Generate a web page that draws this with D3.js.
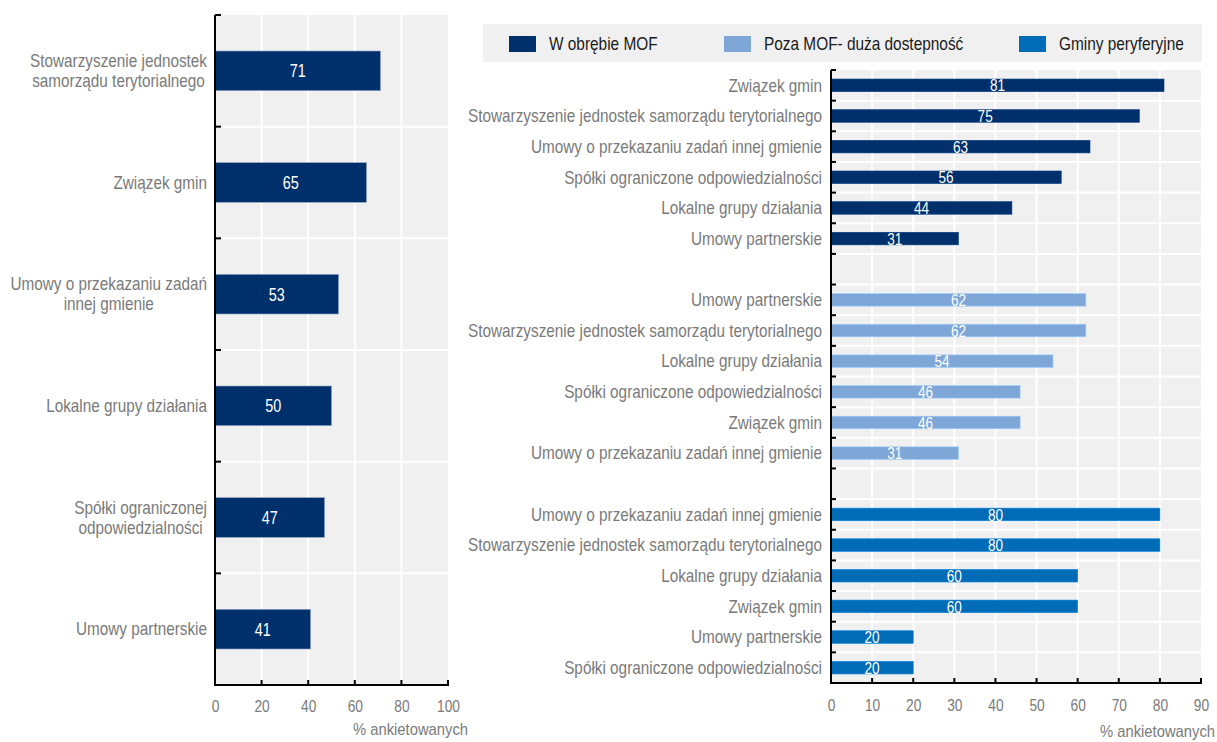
<!DOCTYPE html>
<html><head><meta charset="utf-8">
<script src="https://cdn.jsdelivr.net/npm/d3@7"></script>
<style>
html,body{margin:0;padding:0;background:#fff;}
text{font-family:"Liberation Sans Narrow","Arial Narrow","Liberation Sans",Arial,sans-serif;}
</style></head>
<body>
<svg id="chart" width="1217" height="742"></svg>
<script>
// ---- data ----
const leftCategories = ["Stowarzyszenie jednostek samorządu terytorialnego","Związek gmin","Umowy o przekazaniu zadań innej gmienie","Lokalne grupy działania","Spółki ograniczonej odpowiedzialności","Umowy partnerskie"];
const leftLabelLines = [["Stowarzyszenie jednostek","samorządu terytorialnego"],["Związek gmin"],["Umowy o przekazaniu zadań","innej gmienie"],["Lokalne grupy działania"],["Spółki ograniczonej","odpowiedzialności"],["Umowy partnerskie"]];
const leftValues = [71,65,53,50,47,41];
const leftTicks = [0,20,40,60,80,100];

const seriesNames = ["W obrębie MOF","Poza MOF- duża dostepność","Gminy peryferyjne"];
const seriesColors = ["#00306b","#7ea7d8","#006bb6"];
const mofCategories = ["Związek gmin","Stowarzyszenie jednostek samorządu terytorialnego","Umowy o przekazaniu zadań innej gmienie","Spółki ograniczone odpowiedzialności","Lokalne grupy działania","Umowy partnerskie"];
const mofValues = [81,75,63,56,44,31];
const pozaCategories = ["Umowy partnerskie","Stowarzyszenie jednostek samorządu terytorialnego","Lokalne grupy działania","Spółki ograniczone odpowiedzialności","Związek gmin","Umowy o przekazaniu zadań innej gmienie"];
const pozaValues = [62,62,54,46,46,31];
const peryCategories = ["Umowy o przekazaniu zadań innej gmienie","Stowarzyszenie jednostek samorządu terytorialnego","Lokalne grupy działania","Związek gmin","Umowy partnerskie","Spółki ograniczone odpowiedzialności"];
const peryValues = [80,80,60,60,20,20];
const rightTicks = [0,10,20,30,40,50,60,70,80,90];
const axisTitle = "% ankietowanych";

const svg = d3.select("#chart");
const BG = "#f0f0f0", GRAY = "#7a7a7a";

// condensed text helper (emulates a narrow face by horizontal scaling)
function ctext(parent, x, y, size, sx){
  return parent.append("text")
    .attr("transform", `translate(${x},${y}) scale(${sx},1)`)
    .attr("font-size", size);
}

// ---------- LEFT PANEL ----------
(function(){
  const x0 = 215, x1 = 448, y0 = 15, y1 = 685;
  const x = d3.scaleLinear().domain([0,100]).range([x0,x1]);
  const y = d3.scaleBand().domain(d3.range(leftCategories.length)).range([y0,y1]).padding(0);
  const g = svg.append("g");
  g.append("rect").attr("x",x0).attr("y",y0).attr("width",x1-x0).attr("height",y1-y0).attr("fill",BG);
  g.selectAll(".vg").data(leftTicks.slice(1,-1)).enter().append("line")
    .attr("x1",d=>x(d)).attr("x2",d=>x(d)).attr("y1",y0).attr("y2",y1)
    .attr("stroke","#fff").attr("stroke-width",2);
  const bounds = d3.range(1,leftCategories.length).map(i=>y(i));
  g.selectAll(".hg").data(bounds).enter().append("line")
    .attr("x1",x0).attr("x2",x1).attr("y1",d=>d).attr("y2",d=>d)
    .attr("stroke","#fff").attr("stroke-width",2);
  const bh = y.bandwidth()*0.355;
  g.selectAll(".bar").data(leftValues).enter().append("rect")
    .attr("x",x(0)).attr("y",(d,i)=>y(i)+y.bandwidth()/2-bh/2)
    .attr("width",d=>x(d)-x(0)).attr("height",bh)
    .attr("fill",seriesColors[0]).attr("stroke","#8ea3c4").attr("stroke-width",0.6);
  leftValues.forEach((d,i)=>{
    ctext(g,(x(0)+x(d))/2, y(i)+y.bandwidth()/2, 18, 0.8)
      .attr("dy","0.36em").attr("text-anchor","middle").attr("fill","#fff").text(d);
  });
  const S = 0.875;
  leftLabelLines.forEach((lines,i)=>{
    const cy = y(i)+y.bandwidth()/2;
    const lh = 20;
    const t = ctext(g, 0, 0, 17.5, S).attr("fill",GRAY).attr("text-anchor","middle");
    const spans = lines.map((ln,k)=>t.append("tspan").attr("x",0)
      .attr("y",cy + (k-(lines.length-1)/2)*lh).attr("dy","0.36em").text(ln));
    let maxW = 0;
    spans.forEach(s=>{maxW=Math.max(maxW,s.node().getComputedTextLength());});
    const cx = 207 - maxW*S/2;
    t.attr("transform",`translate(${cx},0) scale(${S},1)`);
  });
  g.append("line").attr("x1",x0).attr("x2",x0).attr("y1",y0).attr("y2",y1).attr("stroke","#000").attr("stroke-width",2);
  g.append("line").attr("x1",x0-1).attr("x2",x1+1).attr("y1",y1).attr("y2",y1).attr("stroke","#000").attr("stroke-width",2);
  g.selectAll(".yt").data([y0].concat(bounds)).enter().append("line")
    .attr("x1",x0).attr("x2",x0+6).attr("y1",d=>d).attr("y2",d=>d).attr("stroke","#000").attr("stroke-width",2);
  const xa = d3.axisBottom(x).tickValues(leftTicks).tickSize(0).tickPadding(16);
  const ax = g.append("g").attr("transform",`translate(0,${y1})`).call(xa);
  ax.select(".domain").remove();
  ax.selectAll("text").attr("font-size",16).attr("fill",GRAY).attr("font-family",null)
    .attr("transform","scale(0.86,1)");
  g.selectAll(".xt").data(leftTicks).enter().append("line")
    .attr("x1",d=>x(d)).attr("x2",d=>x(d)).attr("y1",y1).attr("y2",y1-5).attr("stroke","#000").attr("stroke-width",2);
  ctext(g,468,735,17,0.87).attr("text-anchor","end").attr("fill",GRAY).text(axisTitle);
})();

// ---------- RIGHT PANEL ----------
(function(){
  const x0 = 831, x1 = 1201, y0 = 70, y1 = 683;
  const groups = [
    {cats:mofCategories, vals:mofValues, color:seriesColors[0]},
    {cats:pozaCategories, vals:pozaValues, color:seriesColors[1]},
    {cats:peryCategories, vals:peryValues, color:seriesColors[2]}
  ];
  const rows = [];
  groups.forEach((gr,gi)=>{
    gr.cats.forEach((c,ci)=>rows.push({key:`${gi}-${ci}`, cat:c, val:gr.vals[ci], color:gr.color}));
    if (gi<groups.length-1) rows.push({key:`gap${gi}`, gap:true});
  });
  const x = d3.scaleLinear().domain([0,90]).range([x0,x1]);
  const y = d3.scaleBand().domain(rows.map(r=>r.key)).range([y0,y1]).padding(0);
  const g = svg.append("g");
  g.append("rect").attr("x",x0).attr("y",y0).attr("width",x1-x0).attr("height",y1-y0).attr("fill",BG);
  g.selectAll(".vg").data(rightTicks.slice(1,-1)).enter().append("line")
    .attr("x1",d=>x(d)).attr("x2",d=>x(d)).attr("y1",y0).attr("y2",y1)
    .attr("stroke","#fff").attr("stroke-width",2);
  const bounds = rows.slice(1).map(r=>y(r.key));
  g.selectAll(".hg").data(bounds).enter().append("line")
    .attr("x1",x0).attr("x2",x1).attr("y1",d=>d).attr("y2",d=>d)
    .attr("stroke","#fff").attr("stroke-width",2);
  const data = rows.filter(r=>!r.gap);
  const bh = y.bandwidth()*0.41;
  g.selectAll(".bar").data(data).enter().append("rect")
    .attr("x",x(0)).attr("y",d=>y(d.key)+y.bandwidth()/2-bh/2)
    .attr("width",d=>x(d.val)-x(0)).attr("height",bh).attr("fill",d=>d.color)
    .attr("stroke",d=>d3.color(d.color).brighter(0.6)).attr("stroke-width",0.6);
  data.forEach(d=>{
    ctext(g,(x(0)+x(d.val))/2, y(d.key)+y.bandwidth()/2, 17, 0.8)
      .attr("dy","0.36em").attr("text-anchor","middle").attr("fill","#fff").text(d.val);
    ctext(g,822, y(d.key)+y.bandwidth()/2, 17.5, 0.875)
      .attr("dy","0.36em").attr("text-anchor","end").attr("fill",GRAY).text(d.cat);
  });
  g.append("line").attr("x1",x0).attr("x2",x0).attr("y1",y0).attr("y2",y1).attr("stroke","#000").attr("stroke-width",2);
  g.append("line").attr("x1",x0-1).attr("x2",x1+1).attr("y1",y1).attr("y2",y1).attr("stroke","#000").attr("stroke-width",2);
  g.selectAll(".yt").data([y0].concat(bounds)).enter().append("line")
    .attr("x1",x0).attr("x2",x0+5).attr("y1",d=>d).attr("y2",d=>d).attr("stroke","#000").attr("stroke-width",2);
  const xa = d3.axisBottom(x).tickValues(rightTicks).tickSize(0).tickPadding(17);
  const ax = g.append("g").attr("transform",`translate(0,${y1})`).call(xa);
  ax.select(".domain").remove();
  ax.selectAll("text").attr("font-size",16).attr("fill",GRAY).attr("font-family",null)
    .attr("transform","scale(0.86,1)");
  g.selectAll(".xt").data(rightTicks).enter().append("line")
    .attr("x1",d=>x(d)).attr("x2",d=>x(d)).attr("y1",y1).attr("y2",y1-5).attr("stroke","#000").attr("stroke-width",2);
  ctext(g,1215,737,17,0.87).attr("text-anchor","end").attr("fill",GRAY).text(axisTitle);

  // legend
  const lg = svg.append("g");
  lg.append("rect").attr("x",483).attr("y",24).attr("width",1202-483).attr("height",38).attr("fill",BG);
  const legX = [509,724,1019];
  seriesNames.forEach((n,i)=>{
    lg.append("rect").attr("x",legX[i]).attr("y",36).attr("width",27).attr("height",16).attr("fill",seriesColors[i]);
    ctext(lg,legX[i]+40,44,17.5,0.88).attr("dy","0.36em").attr("fill","#1a1a1a").text(n);
  });
})();
</script>
</body></html>
